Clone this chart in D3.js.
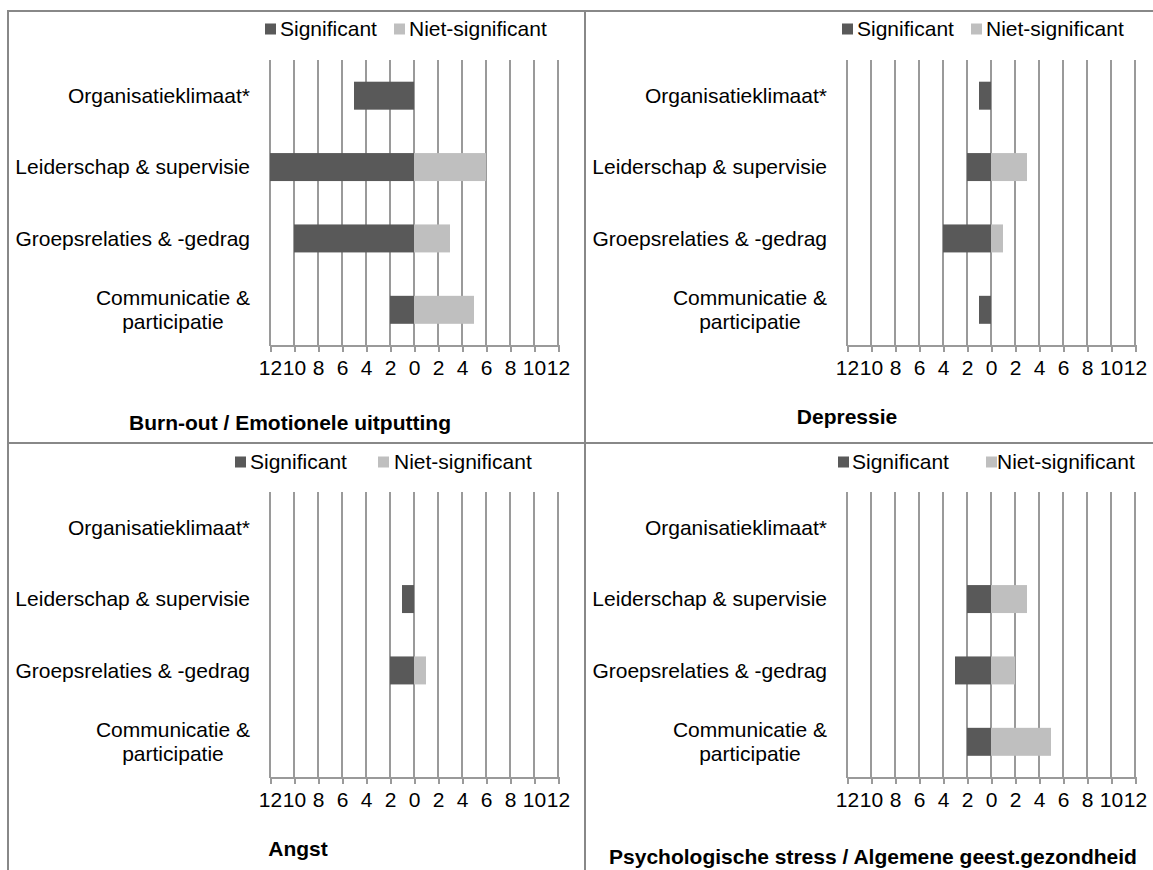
<!DOCTYPE html>
<html lang="nl">
<head>
<title>Significante verbanden per uitkomst</title>
<meta charset="utf-8">
<script src="https://d3js.org/d3.v7.min.js"></script>
<style type="text/css">

	body {
		margin: 0;
		background: #fff;
		font-family: "Liberation Sans", Arial, sans-serif;
	}

	text {
		font-size: 21px;
		fill: #000;
	}

	.title {
		font-weight: bold;
	}

	.grid line, .axis path, .axis line {
		stroke: #9a9a9a;
		stroke-width: 2;
		shape-rendering: crispEdges;
	}

	.frame {
		stroke: #888;
		stroke-width: 2;
		shape-rendering: crispEdges;
	}

</style>
</head>
<body>

<div id="vis"></div>

<script type="text/javascript">

/* Data */
/* ==== */

var categories = ['Organisatieklimaat*', 'Leiderschap & supervisie', 'Groepsrelaties & -gedrag', 'Communicatie & participatie'];
var seriesNames = ['Significant', 'Niet-significant'];
var titles = ['Burn-out / Emotionele uitputting', 'Depressie', 'Angst', 'Psychologische stress / Algemene geest.gezondheid'];

// number of studies per category (significant is drawn to the left)
var burnoutSig = [5, 12, 10, 2];
var burnoutNonSig = [0, 6, 3, 5];
var depressieSig = [1, 2, 4, 1];
var depressieNonSig = [0, 3, 1, 0];
var angstSig = [0, 1, 2, 0];
var angstNonSig = [0, 0, 1, 0];
var stressSig = [0, 2, 3, 2];
var stressNonSig = [0, 3, 2, 5];

var tickValues = [-12, -10, -8, -6, -4, -2, 0, 2, 4, 6, 8, 10, 12];

var panels = [
	{ title: titles[0], sig: burnoutSig, nonSig: burnoutNonSig },
	{ title: titles[1], sig: depressieSig, nonSig: depressieNonSig },
	{ title: titles[2], sig: angstSig, nonSig: angstNonSig },
	{ title: titles[3], sig: stressSig, nonSig: stressNonSig }
];


/* Layout */
/* ====== */

var width = 1153, height = 870;
var colors = ['#595959', '#bfbfbf'];

// panel origins (top-left corner of each frame)
var origins = [[8, 11], [585, 11], [8, 443], [585, 443]];

// legend positions per panel: [dark square, dark text, light square, light text]
var legendX = [[257, 272, 386, 401], [257, 272, 386, 401], [227, 242, 370, 386], [253, 267, 401, 412]];
var legendY = [18, 18, 19, 19];

// title positions per panel: [centre x, baseline y]
var titlePos = [[282, 419], [262, 413], [290, 413], [288, 421]];

var svg = d3.select('#vis')
	.append('svg')
		.attr('width', width)
		.attr('height', height);


/* Scales */
/* ====== */

var xScale = d3.scaleLinear()
	.domain([-12, 12])
	.range([262, 550]);

var yScale = d3.scaleBand()
	.domain(categories)
	.range([49, 334.5])
	.paddingInner(0.608)
	.paddingOuter(0.304);

var plotTop = 49, plotBottom = 334.5;


/* Panels */
/* ====== */

panels.forEach(function(p, i) {

	var g = svg.append('g')
		.attr('transform', 'translate(' + origins[i][0] + ',' + origins[i][1] + ')');

	// vertical gridlines
	g.append('g')
		.attr('class', 'grid')
		.selectAll('line')
		.data(tickValues).enter()
		.append('line')
			.attr('x1', function(d) { return xScale(d); })
			.attr('x2', function(d) { return xScale(d); })
			.attr('y1', plotTop)
			.attr('y2', plotBottom);

	// bottom axis
	var axis = g.append('g')
		.attr('class', 'axis')
		.attr('transform', 'translate(0,' + plotBottom + ')')
		.call(d3.axisBottom(xScale)
			.tickValues(tickValues)
			.tickSizeOuter(0)
			.tickSize(6)
			.tickPadding(9)
			.tickFormat(function(d) { return Math.abs(d); }));

	axis.selectAll('text')
		.attr('fill', '#000')
		.style('font-size', '21px')
		.style('font-family', '"Liberation Sans", Arial, sans-serif')
		.attr('dy', '0.71em');

	// bars: significant to the left, non-significant to the right
	var rows = categories.map(function(c, j) {
		return { cat: c, sig: p.sig[j], nonSig: p.nonSig[j] };
	});

	g.selectAll('.bar-sig')
		.data(rows.filter(function(d) { return d.sig > 0; })).enter()
		.append('rect')
			.attr('class', 'bar-sig')
			.attr('x', function(d) { return xScale(-d.sig); })
			.attr('y', function(d) { return yScale(d.cat); })
			.attr('width', function(d) { return xScale(0) - xScale(-d.sig); })
			.attr('height', yScale.bandwidth())
			.attr('fill', colors[0]);

	g.selectAll('.bar-nonsig')
		.data(rows.filter(function(d) { return d.nonSig > 0; })).enter()
		.append('rect')
			.attr('class', 'bar-nonsig')
			.attr('x', xScale(0))
			.attr('y', function(d) { return yScale(d.cat); })
			.attr('width', function(d) { return xScale(d.nonSig) - xScale(0); })
			.attr('height', yScale.bandwidth())
			.attr('fill', colors[1]);

	// category labels, the long one wrapped in two centred lines
	categories.forEach(function(c) {
		var cy = yScale(c) + yScale.bandwidth() / 2;
		if (c.indexOf('Communicatie') === 0) {
			var first = g.append('text')
				.attr('x', 242)
				.attr('y', cy - 12)
				.attr('dy', '0.35em')
				.attr('text-anchor', 'end')
				.text('Communicatie &');
			var w = first.node().getComputedTextLength();
			g.append('text')
				.attr('x', 242 - w / 2)
				.attr('y', cy + 12)
				.attr('dy', '0.35em')
				.attr('text-anchor', 'middle')
				.text('participatie');
		} else {
			g.append('text')
				.attr('x', 242)
				.attr('y', cy)
				.attr('dy', '0.35em')
				.attr('text-anchor', 'end')
				.text(c);
		}
	});

	// legend
	var lx = legendX[i], ly = legendY[i];
	seriesNames.forEach(function(name, k) {
		g.append('rect')
			.attr('x', lx[k * 2])
			.attr('y', ly - 5.5)
			.attr('width', 11)
			.attr('height', 11)
			.attr('fill', colors[k]);
		g.append('text')
			.attr('x', lx[k * 2 + 1])
			.attr('y', ly)
			.attr('dy', '0.35em')
			.text(name);
	});

	// title
	g.append('text')
		.attr('class', 'title')
		.attr('x', titlePos[i][0])
		.attr('y', titlePos[i][1])
		.attr('text-anchor', 'middle')
		.text(p.title);

});


/* Frame lines */
/* =========== */

var frame = svg.append('g');

frame.append('line').attr('class', 'frame').attr('x1', 7).attr('x2', width).attr('y1', 11).attr('y2', 11);
frame.append('line').attr('class', 'frame').attr('x1', 7).attr('x2', width).attr('y1', 443).attr('y2', 443);
frame.append('line').attr('class', 'frame').attr('x1', 8).attr('x2', 8).attr('y1', 10).attr('y2', height);
frame.append('line').attr('class', 'frame').attr('x1', 585).attr('x2', 585).attr('y1', 10).attr('y2', height);

</script>

</body>
</html>
